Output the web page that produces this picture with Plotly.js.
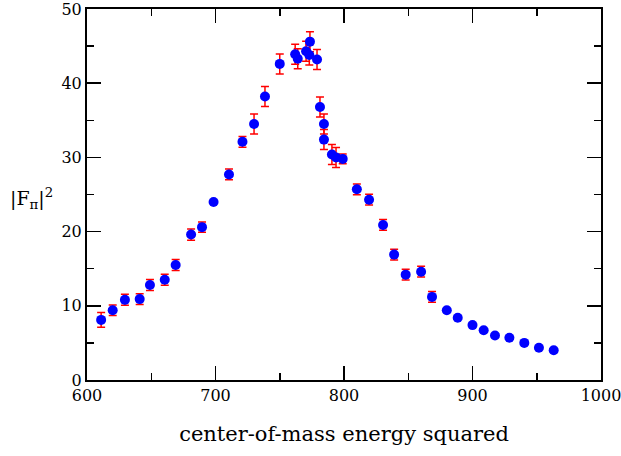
<!DOCTYPE html>
<html>
<head>
<meta charset="utf-8">
<script src="https://cdn.plot.ly/plotly-3.0.1.min.js"></script>
<style>html,body{margin:0;padding:0;background:#fff;}#chart{width:621px;height:456px;}</style>
</head>
<body>
<div id="chart"></div>
<script>
const energy = [611, 620, 629.5, 641, 649, 660.5, 669, 681, 689.5, 698.5, 710.5, 721, 730, 738.5, 750, 762, 764, 770.5, 773.5, 773, 779, 781.3, 784.4, 784.4, 790.6, 793.8, 799, 810, 819.5, 830.4, 839, 848, 860, 868.5, 880, 888.5, 900, 908.7, 917.5, 928.7, 940.3, 951.7, 963.2];
const formFactor = [8.1, 9.4, 10.8, 10.9, 12.8, 13.5, 15.5, 19.6, 20.6, 24.0, 27.7, 32.1, 34.5, 38.2, 42.6, 43.9, 43.3, 44.3, 45.6, 43.8, 43.2, 36.8, 34.5, 32.4, 30.4, 30.0, 29.8, 25.7, 24.3, 20.9, 16.9, 14.2, 14.6, 11.2, 9.4, 8.4, 7.4, 6.7, 6.0, 5.7, 5.0, 4.35, 4.0];
const errors = [1.0, 0.72, 0.74, 0.72, 0.74, 0.74, 0.74, 0.76, 0.7, 0, 0.72, 0.72, 1.35, 1.35, 1.35, 1.35, 1.35, 1.35, 1.35, 1.35, 1.35, 1.35, 1.35, 1.35, 1.35, 1.35, 0.67, 0.72, 0.72, 0.72, 0.72, 0.72, 0.72, 0.72, 0, 0, 0, 0, 0, 0, 0, 0, 0];
const xTitle = 'center-of-mass energy squared';
const yTitle = '|F<sub>π</sub>|<sup>2</sup>';

const font = 'DejaVu Serif';
const trace = {
  x: energy, y: formFactor, type: 'scatter', mode: 'markers',
  marker: {color: '#0000ff', size: 10},
  error_y: {type: 'data', array: errors, visible: true, color: '#ff0000', thickness: 1.5, width: 4},
  showlegend: false, hoverinfo: 'none'
};
const axisCommon = {
  showline: true, linecolor: '#000', linewidth: 2, mirror: 'ticks',
  ticks: 'inside', ticklen: 14, tickwidth: 1.5, tickcolor: '#000',
  showgrid: false, zeroline: false, ticklabeloverflow: 'allow',
  tickfont: {family: font, size: 16, color: '#000'}
};
const layout = {
  width: 621, height: 456,
  margin: {l: 87, r: 20, t: 9, b: 76},
  paper_bgcolor: '#fff', plot_bgcolor: '#fff',
  font: {family: font},
  xaxis: Object.assign({}, axisCommon, {
    range: [600, 1000], dtick: 100, tick0: 600,
    minor: {ticks: 'inside', ticklen: 7, dtick: 50, tickwidth: 1.5, tickcolor: '#000'},
    title: {text: xTitle, font: {family: font, size: 21, color: '#000'}, standoff: 22}
  }),
  yaxis: Object.assign({}, axisCommon, {
    range: [0, 50], dtick: 10, tick0: 0,
    minor: {ticks: 'inside', ticklen: 7, dtick: 5, tickwidth: 1.5, tickcolor: '#000'}
  }),
  annotations: [{
    text: yTitle, xref: 'paper', yref: 'paper', x: -0.108, y: 0.49,
    xanchor: 'center', yanchor: 'middle', showarrow: false,
    font: {family: font, size: 19, color: '#000'}
  }]
};
Plotly.newPlot('chart', [trace], layout, {staticPlot: true, displayModeBar: false});
</script>
</body>
</html>
